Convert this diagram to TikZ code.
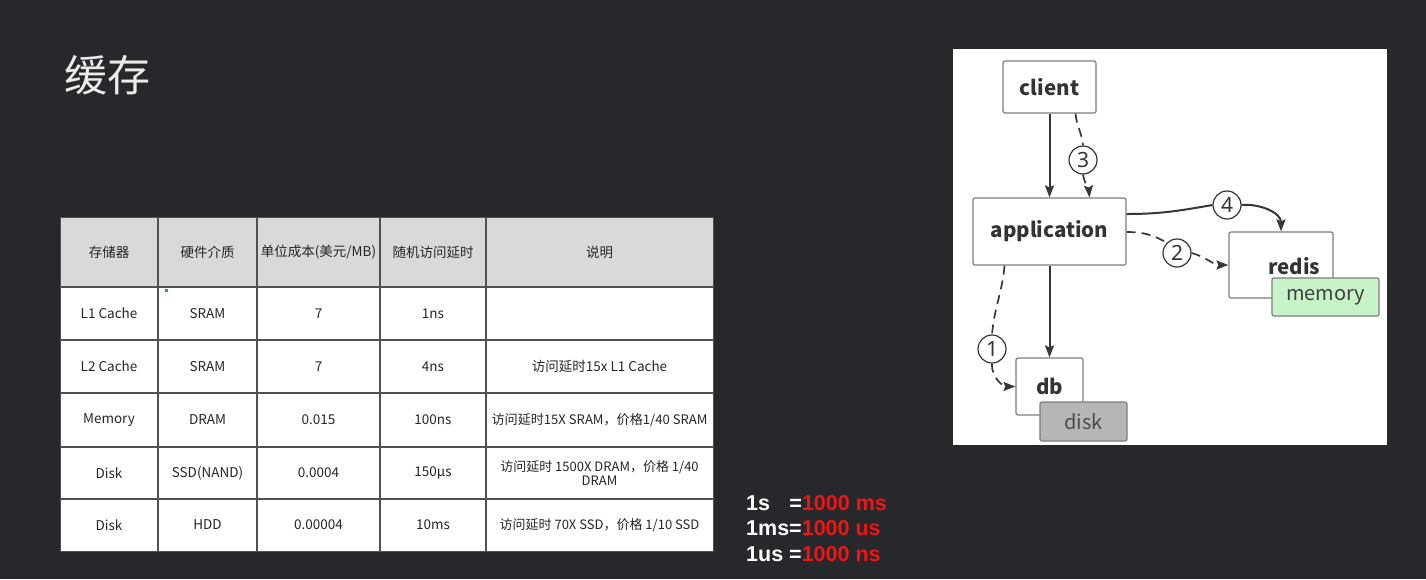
\documentclass[tikz,border=0pt]{standalone}
\usepackage{fontspec}
\setmainfont{Liberation Sans}
\newfontfamily\cjk{Noto Sans CJK SC}
\newfontfamily\nsans{Noto Sans}
\usetikzlibrary{arrows.meta}
\definecolor{bg}{RGB}{39,40,44}
\definecolor{hdr}{RGB}{217,217,217}
\definecolor{grid}{RGB}{80,80,80}
\definecolor{boxline}{RGB}{125,125,125}
\definecolor{conn}{RGB}{55,55,55}
\definecolor{memfill}{RGB}{200,243,200}
\definecolor{diskfill}{RGB}{182,182,182}
\definecolor{redtxt}{RGB}{240,20,20}
\tikzset{
  cell/.style={font=\cjk\fontsize{13.5}{16}\selectfont, text=black!85, align=center, inner sep=0pt},
  dbox/.style={draw=boxline, line width=1.2pt, fill=white, rounded corners=2pt, inner sep=0pt},
  btxt/.style={font=\cjk\bfseries\fontsize{20.5}{24}\selectfont, text=black!80},
  rtxt/.style={font=\cjk\fontsize{20}{24}\selectfont, text=black!75},
  numc/.style={circle, draw=black!80, line width=1.2pt, minimum size=28pt, inner sep=0pt, font=\nsans\fontsize{21}{22}\selectfont, text=black!80},
  solidc/.style={draw=conn, line width=2pt, -{Stealth[length=12pt,width=9pt,inset=2pt]}},
  solidplain/.style={draw=conn, line width=2pt},
  dashc/.style={draw=conn, line width=1.7pt, dash pattern=on 9pt off 6pt},
  dashcarrow/.style={dashc, -{Stealth[length=12pt,width=9pt,inset=2pt]}},
  unit/.style={font=\bfseries\fontsize{21.5}{24}\selectfont, text=white, anchor=west, inner sep=0pt}
}
\begin{document}
\begin{tikzpicture}[x=1pt,y=-1pt]
\useasboundingbox (0,0) rectangle (1426,579);
\fill[bg] (0,0) rectangle (1426,579);

% title
\node[font=\cjk\fontsize{43}{46}\selectfont, text=white!92!black, anchor=west, inner sep=0pt] (title) at (64,75) {缓存};

% ---------- table ----------
\fill[white] (60,217) rectangle (713,551);
\fill[hdr] (60,217) rectangle (713,287);
\foreach \y in {287,340,393,447,499}
  \draw[grid, line width=1.3pt] (60,\y) -- (713,\y);
\foreach \x in {158,257,380,486}
  \draw[grid, line width=1.3pt] (\x,217) -- (\x,551);
\draw[grid, line width=1pt] (60,217) rectangle (713,551);
\fill[green!80!black] (165,289) rectangle (168,292);

\node[cell] (h1) at (109,252) {存储器};
\node[cell] (h2) at (207.5,252) {硬件介质};
\node[cell] (h3) at (318.5,252) {单位成本(美元/MB)};
\node[cell] (h4) at (433,252) {随机访问延时};
\node[cell] (h5) at (599.5,252) {说明};

\node[cell] (a1) at (109,313.5) {L1 Cache};
\node[cell] (a2) at (207.5,313.5) {SRAM};
\node[cell] (a3) at (318.5,313.5) {7};
\node[cell] (a4) at (433,313.5) {1ns};

\node[cell] (b1) at (109,366.5) {L2 Cache};
\node[cell] (b2) at (207.5,366.5) {SRAM};
\node[cell] (b3) at (318.5,366.5) {7};
\node[cell] (b4) at (433,366.5) {4ns};
\node[cell] (b5) at (599.5,366.5) {访问延时15x L1 Cache};

\node[cell] (c1t) at (109,420) {Memory};
\node[cell] (c2t) at (207.5,420) {DRAM};
\node[cell] (c3t) at (318.5,420) {0.015};
\node[cell] (c4t) at (433,420) {100ns};
\node[cell, font=\cjk\fontsize{13.1}{15}\selectfont] (c5t) at (599.5,420) {访问延时15X SRAM，价格1/40 SRAM};

\node[cell] (d1) at (109,473) {Disk};
\node[cell] (d2) at (207.5,473) {SSD(NAND)};
\node[cell] (d3) at (318.5,473) {0.0004};
\node[cell] (d4) at (433,473) {150μs};
\node[cell, font=\cjk\fontsize{13}{14}\selectfont] (d5) at (599.5,473) {访问延时 1500X DRAM，价格 1/40\\DRAM};

\node[cell] (e1) at (109,525) {Disk};
\node[cell] (e2) at (207.5,525) {HDD};
\node[cell] (e3) at (318.5,525) {0.00004};
\node[cell] (e4) at (433,525) {10ms};
\node[cell, font=\cjk\fontsize{13}{15}\selectfont] (e5) at (599.5,525) {访问延时 70X SSD，价格 1/10 SSD};

% ---------- units ----------
\node[unit] (u1) at (746,503) {1s\hspace{0.9em}=\textcolor{redtxt}{1000 ms}};
\node[unit] (u2) at (746,528.5) {1ms=\textcolor{redtxt}{1000 us}};
\node[unit] (u3) at (746,554) {1us =\textcolor{redtxt}{1000 ns}};

% ---------- diagram panel ----------
\fill[white] (953,49) rectangle (1387,445);

\node[dbox, minimum width=93pt, minimum height=52pt] (client) at (1049.5,87) {};
\node[btxt] (clientt) at (client.center) {client};
\node[dbox, minimum width=153pt, minimum height=67pt] (application) at (1049.5,231.5) {};
\node[btxt] (appt) at (application.center) {application};
\node[dbox, minimum width=104pt, minimum height=66pt] (redis) at (1281,265) {};
\node[btxt] (redist) at (1294,266) {redis};
\node[dbox, fill=memfill, minimum width=107pt, minimum height=38pt] (memory) at (1325.5,297) {};
\node[rtxt] (memt) at (memory.center) {memory};
\node[dbox, minimum width=67pt, minimum height=57pt] (db) at (1049.5,386.5) {};
\node[btxt] (dbt) at (1049.5,386) {db};
\node[dbox, fill=diskfill, minimum width=87pt, minimum height=39pt] (disk) at (1083.5,421.5) {};
\node[rtxt, text=black!70] (diskt) at (disk.center) {disk};

\node[numc] (n3) at (1083,160) {3};
\node[numc] (n1) at (992,349) {1};
\node[numc] (n4) at (1227,205) {4};
\node[numc] (n2) at (1177,253) {2};

% connectors
\draw[solidc] (client.south) -- (application.north);
\draw[solidc] (application.south) -- (db.north);
\draw[dashc] ([xshift=26pt]client.south) to[out=-85,in=95] (n3.north);
\draw[dashcarrow] (n3.south) to[out=-80,in=95] ([xshift=40pt]application.north);
\draw[dashc] ([xshift=-45pt]application.south) to[out=-95,in=85] (n1.north);
\draw[dashcarrow] (n1.south) to[out=-95,in=180] (db.west);
\draw[solidplain] ([yshift=17.5pt]application.east) to[out=0,in=190] (n4.west);
\draw[solidc] (n4.east) to[out=5,in=90] (redis.north);
\draw[dashc] ([yshift=-0.5pt]application.east) to[out=0,in=150] (n2.north west);
\draw[dashcarrow] (n2.east) to[out=-15,in=180] (redis.west);
\end{tikzpicture}
\end{document}
